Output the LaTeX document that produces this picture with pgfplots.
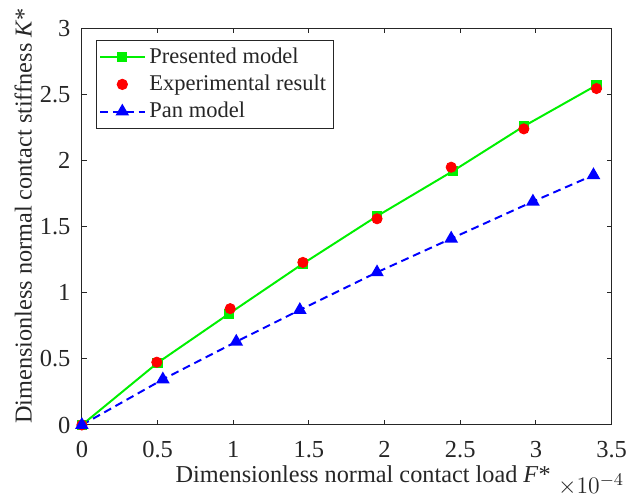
\documentclass[border=0pt]{standalone}
\usepackage{fontspec}
\setmainfont{Liberation Serif}
\usepackage{pgfplots}
\pgfplotsset{compat=1.18}
\definecolor{mgreen}{RGB}{0,240,0}
\definecolor{axc}{RGB}{38,38,38}
\begin{document}
\fontsize{12.3}{14}\selectfont
\begin{tikzpicture}
\begin{axis}[
  width=268.5pt, height=201pt, scale only axis,
  xmin=0, xmax=3.5, ymin=0, ymax=3,
  xtick={0,0.5,1,1.5,2,2.5,3,3.5},
  ytick={0,0.5,1,1.5,2,2.5,3},
  tick align=inside, tick pos=both,
  major tick length=2.5pt,
  axis line style={axc, line width=0.5pt},
  tick style={axc, line width=0.5pt},
  /pgf/number format/assume math mode=true,
  ticklabel style={font=\fontsize{12.4}{14}\selectfont, text=axc},
  xticklabel shift=4pt,
  yticklabel shift=1.5pt,
  clip=false,
  xlabel={Dimensionless normal contact load \textit{F}*},
  ylabel={Dimensionless normal contact stiffness \textit{K}*},
  every axis x label/.style={at={(axis description cs:0.531,-0.1443)}, anchor=base, text=axc},
  every axis y label/.style={at={(axis description cs:-0.095,0.527)}, rotate=90, anchor=base, text=axc},
  legend style={at={(rel axis cs:0,1)}, xshift=7pt, yshift=-6pt, anchor=north west,
    draw=axc, line width=0.5pt, font=\fontsize{11.4}{13}\selectfont, text=axc, inner sep=1.5pt},
  legend cell align=left,
  legend image code/.code={\draw[mark repeat=2,mark phase=2] plot coordinates {(0pt,0pt)(11.25pt,0pt)(22.5pt,0pt)};},
]
\addplot[color=mgreen, line width=1pt, mark=square*, mark size=2.1pt, mark options={solid, fill=mgreen}]
coordinates {(0,0)(0.50,0.47)(0.97,0.84)(1.46,1.22)(1.95,1.58)(2.45,1.92)(2.92,2.26)(3.40,2.57)};
\addlegendentry{Presented model}
\addplot[only marks, color=red, mark=*, mark size=2.6pt, mark options={fill=red}]
coordinates {(0,0)(0.495,0.475)(0.98,0.88)(1.46,1.23)(1.95,1.56)(2.44,1.95)(2.92,2.24)(3.40,2.545)};
\addlegendentry{Experimental result}
\addplot[color=blue, line width=1pt, dash pattern=on 4pt off 2.5pt, mark=triangle*, mark size=3pt, mark options={solid, fill=blue}]
coordinates {(0,0)(0.535,0.345)(1.02,0.63)(1.44,0.87)(1.95,1.155)(2.44,1.41)(2.98,1.69)(3.38,1.89)};
\addlegendentry{Pan model}
\node[anchor=north east, text=axc, inner sep=0pt, font=\fontsize{12.4}{14}\selectfont] at ([xshift=6.5pt,yshift=-24.5pt]rel axis cs:1,0) {$\times10^{-4}$};
\end{axis}
\path ([xshift=-41.5pt,yshift=-36pt]current axis.south west) rectangle ([xshift=7.5pt,yshift=10.5pt]current axis.north east);
\end{tikzpicture}
\end{document}
